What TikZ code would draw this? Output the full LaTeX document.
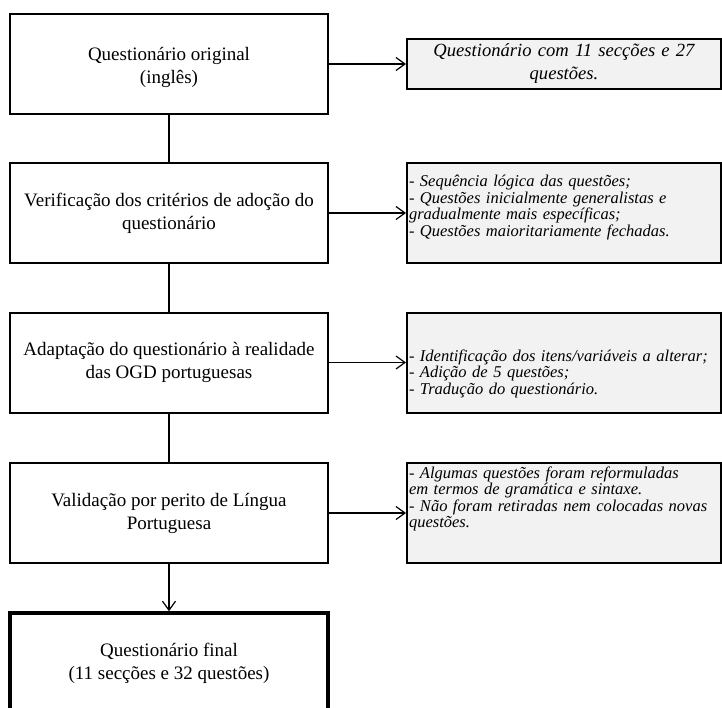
\documentclass[tikz,border=0pt]{standalone}
\usepackage{fontspec}
\setmainfont{Liberation Serif}
\definecolor{NoteGray}{RGB}{242,242,242}
\usetikzlibrary{arrows.meta,positioning}

\tikzset{
  stepbox/.style={draw,line width=2pt,minimum width=318pt,minimum height=100pt,
    inner sep=0pt,align=center,font=\fontsize{19}{23}\selectfont},
  notebox/.style={draw,line width=2pt,fill=NoteGray,text width=310pt,
    inner xsep=2pt,inner ysep=0pt,minimum height=100pt,align=left,
    font=\fontsize{16.5}{16.5}\selectfont\itshape},
  link/.style={line width=1.2pt},
  arr/.style={line width=1.2pt,-{Straight Barb[length=9pt,width=13pt]}}
}

\begin{document}
\begin{tikzpicture}[x=1pt,y=-1pt]
  \useasboundingbox (0,0) rectangle (722,707);
  %% Steps (left column)
  \node[stepbox] (orig)  at (169,64)    {\rule{0pt}{20pt}Questionário original\\(inglês)};
  \node[stepbox] (verif) at (169,213)   {Verificação dos critérios de adoção do\\questionário};
  \node[stepbox] (adapt) at (169,362.5) {Adaptação do questionário à realidade\\das OGD portuguesas};
  \node[stepbox] (valid) at (169,513)   {Validação por perito de Língua\\Portuguesa};
  \node[stepbox,line width=3.5pt] (final) at (169,663)
       {Questionário final\\(11 secções e 32 questões)};
  %% Notes (right column)
  \node[notebox,minimum height=50pt,align=center,
        font=\fontsize{18.6}{23}\selectfont\itshape] (orignote) at (564,64)
       {Questionário com 11 secções e 27\\questões.};
  \node[notebox] (verifnote) at (564,213)
       {- Sequência lógica das questões;\\
        - Questões inicialmente generalistas e\\
        gradualmente mais específicas;\\
        - Questões maioritariamente fechadas.\rule[-14pt]{0pt}{14pt}};
  \node[notebox] (adaptnote) at (564,362.5)
       {\rule{0pt}{34pt}- Identificação dos itens/variáveis a alterar;\\
        - Adição de 5 questões;\\
        - Tradução do questionário.};
  \node[notebox] (validnote) at (564,513)
       {- Algumas questões foram reformuladas\\
        em termos de gramática e sintaxe.\\
        - Não foram retiradas nem colocadas novas\\
        questões.\rule[-32pt]{0pt}{32pt}};
  %% Connectors
  \draw[link] (orig) -- (verif);
  \draw[link] (verif) -- (adapt);
  \draw[link] (adapt) -- (valid);
  \draw[arr] (valid) -- (final);
  \draw[arr] (orig) -- (orignote);
  \draw[arr] (verif) -- (verifnote);
  \draw[arr] (adapt) -- (adaptnote);
  \draw[arr] (valid) -- (validnote);
\end{tikzpicture}
\end{document}
